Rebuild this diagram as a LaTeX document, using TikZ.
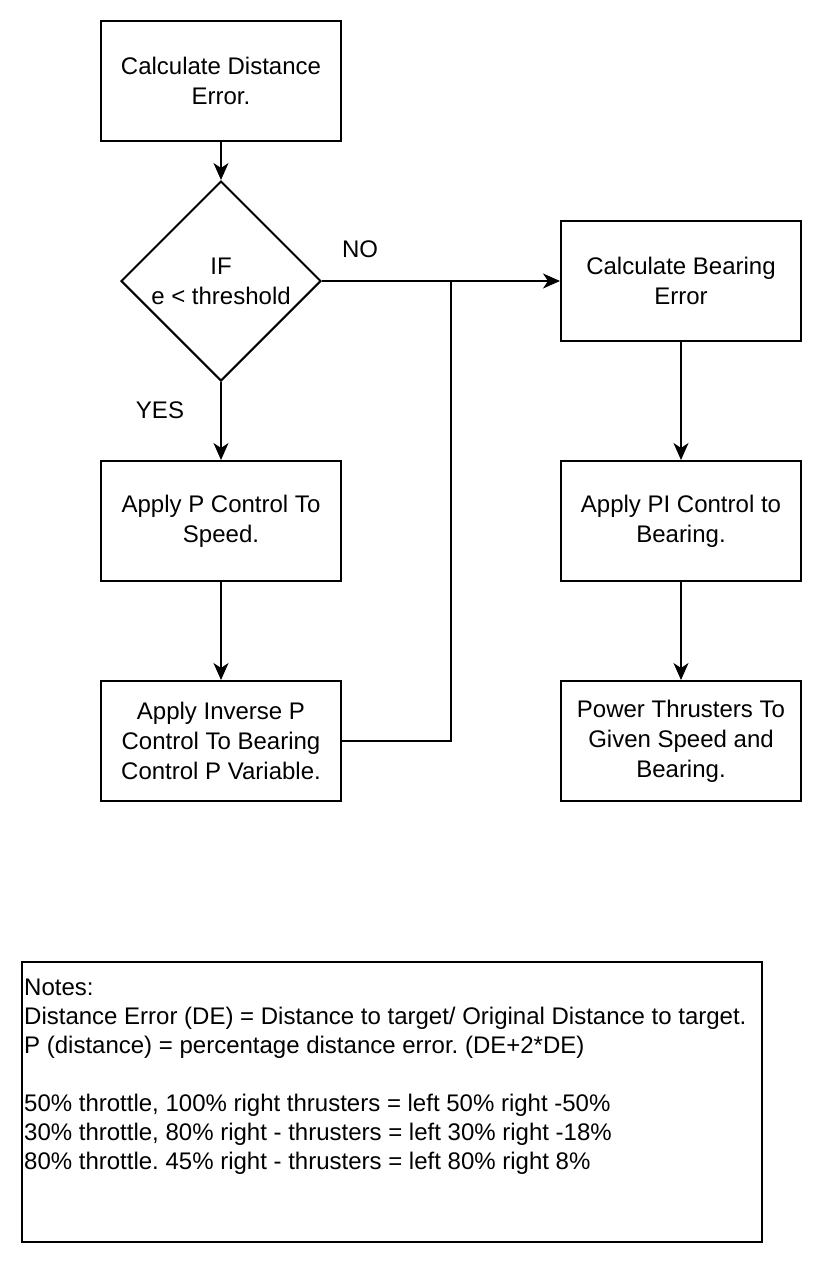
\documentclass[tikz,border=0pt]{standalone}
\usepackage{fontspec}
\setmainfont{Liberation Sans}
\usetikzlibrary{shapes.geometric}
\usetikzlibrary{arrows.meta}
\frenchspacing
\newcommand{\flowfont}{\fontsize{24}{30}\selectfont}
\newcommand{\notefont}{\fontsize{24}{29}\selectfont}
\tikzset{
   stepbox/.style={rectangle,draw,line width=2pt,minimum width=240pt,minimum height=120pt,inner sep=0pt,align=center,font=\flowfont},
   decision/.style={diamond,draw,line width=2pt,aspect=1,minimum width=200pt,minimum height=200pt,inner sep=0pt,align=center,font=\flowfont},
   flow/.style={-{Stealth[length=17pt,width=15pt,inset=5pt]},line width=2pt},
   link/.style={line width=2pt},
   lbl/.style={font=\flowfont,inner sep=0pt},
   notebox/.style={rectangle,draw,line width=2pt,minimum width=740pt,minimum height=280pt,anchor=north west},
}

\begin{document}
\begin{tikzpicture}[x=1pt,y=-1pt]

        \useasboundingbox (0,0) rectangle (822,1262);

        \node[stepbox] (calcDE) at (221,  81) {Calculate Distance\\Error.};
        \node[decision] (ifE)   at (221, 281) {IF\\e < threshold};
        \node[stepbox] (pSpeed) at (221, 521) {Apply P Control To\\Speed.};
        \node[stepbox] (invP)   at (221, 741) {Apply Inverse P\\Control To Bearing\\Control P Variable.};

        \node[stepbox] (calcBE)    at (681, 281) {Calculate Bearing\\Error};
        \node[stepbox] (piBearing) at (681, 521) {Apply PI Control to\\Bearing.};
        \node[stepbox] (power)     at (681, 741) {Power Thrusters To\\Given Speed and\\Bearing.};

        \coordinate (join) at (451, 281);

        \node[lbl] (noLbl)  at (360, 249) {NO};
        \node[lbl] (yesLbl) at (160, 410) {YES};

        \draw[flow] (calcDE) -- (ifE);
        \draw[flow] (ifE) -- (pSpeed);
        \draw[flow] (pSpeed) -- (invP);
        \draw[flow] (ifE) -- (calcBE);
        \draw[link] (invP.east) -| (join);

        \draw[flow] (calcBE) -- (piBearing);
        \draw[flow] (piBearing) -- (power);

        \node[notebox] (notes) at (21, 961) {};
        \node[anchor=north west,align=left,inner sep=0pt,font=\notefont] (notesText) at (24, 979)
          {Notes:\\
           Distance Error (DE) = Distance to target/ Original Distance to target.\\
           P (distance) = percentage distance error. (DE+2*DE)\\[29pt]
           50\% throttle, 100\% right thrusters = left 50\% right -50\%\\
           30\% throttle, 80\% right - thrusters = left 30\% right -18\%\\
           80\% throttle. 45\% right - thrusters = left 80\% right 8\%};

      \end{tikzpicture}
\end{document}
